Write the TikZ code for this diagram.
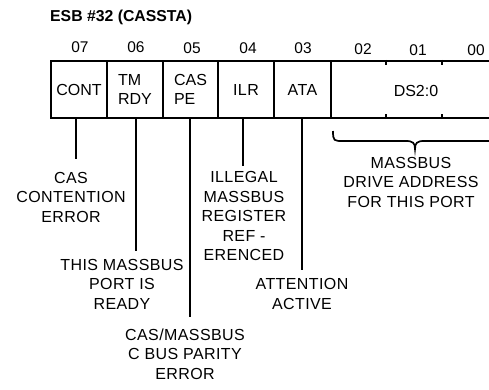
\documentclass[tikz,border=0pt]{standalone}
\usepackage{fontspec}
\setmainfont{Liberation Sans}
\newfontfamily\lblfont[LetterSpace=2.5]{Liberation Sans}
\begin{document}
\begin{tikzpicture}[x=1pt,y=-1pt,
  every node/.style={inner sep=0pt},
  cell/.style={draw, line width=2.2pt, minimum height=57pt, align=left, font=\fontsize{16}{19}\selectfont},
  lbl/.style={align=center, font=\lblfont\fontsize{16}{19.5}\selectfont},
  conn/.style={line width=1.7pt},
  bitnum/.style={font=\fontsize{15.5}{18}\selectfont}]
\useasboundingbox (0,0) rectangle (489,389);
\node[anchor=west] (title) at (50,17) {\bfseries\fontsize{15.8}{19}\selectfont ESB \#32 (CASSTA)};
% bit numbers
\node[bitnum] (b7) at (80,47) {07};
\node[bitnum] (b6) at (136,47) {06};
\node[bitnum] (b5) at (192,48) {05};
\node[bitnum] (b4) at (248,48) {04};
\node[bitnum] (b3) at (303,48) {03};
\node[bitnum] (b2) at (363,49) {02};
\node[bitnum] (b1) at (418,50) {01};
\node[bitnum] (b0) at (476,50) {00};
% register cells
\node[cell, minimum width=56pt] (c7) at (79,89.5) {CONT};
\node[cell, minimum width=56pt] (c6) at (135,89.5) {TM\\RDY};
\node[cell, minimum width=55pt] (c5) at (190.5,89.5) {CAS\\PE};
\node[cell, minimum width=56pt] (c4) at (246,89.5) {\lblfont ILR};
\node[cell, minimum width=57pt] (c3) at (302.5,89.5) {\lblfont ATA};
\node[cell, minimum width=170pt] (cd) at (416,89.5) {};
\node[font=\fontsize{16}{19}\selectfont] (ds) at (416,91) {DS2:0};
% bit ticks
\draw[line width=1.4pt] (cd.north -| 386,0) -- ++(0,5) (cd.south -| 386,0) -- ++(0,-5);
\draw[line width=1.4pt] (cd.north -| 442,0) -- ++(0,5) (cd.south -| 442,0) -- ++(0,-5);
% label texts
\node[lbl] (t7) at (71,197) {CAS\\CONTENTION\\ERROR};
\node[lbl] (t6) at (122,284) {THIS MASSBUS\\PORT IS\\READY};
\node[lbl] (t5) at (185,354) {CAS/MASSBUS\\C BUS PARITY\\ERROR};
\node[lbl] (t4) at (244,216) {ILLEGAL\\MASSBUS\\REGISTER\\REF -\\ERENCED};
\node[lbl] (t3) at (302,294) {ATTENTION\\ACTIVE};
\node[lbl] (td) at (411,182) {MASSBUS\\DRIVE ADDRESS\\FOR THIS PORT};
% connector ends
\coordinate (l7) at (76,159);
\coordinate (l6) at (136,251);
\coordinate (l5) at (190,317);
\coordinate (l4) at (243,166);
\coordinate (l3) at (302,270);
\draw[conn] (c7.south -| l7) -- (l7);
\draw[conn] (c6.south -| l6) -- (l6);
\draw[conn] (c5.south -| l5) -- (l5);
\draw[conn] (c4.south -| l4) -- (l4);
\draw[conn] (c3.south -| l3) -- (l3);
% brace
\draw[conn] (333,131) .. controls (333,141) and (334,141) .. (343,141) -- (406,141)
  .. controls (413,141) and (415,143) .. (415,149)
  .. controls (415,143) and (417,141) .. (424,141) -- (495,141);
\end{tikzpicture}
\end{document}
